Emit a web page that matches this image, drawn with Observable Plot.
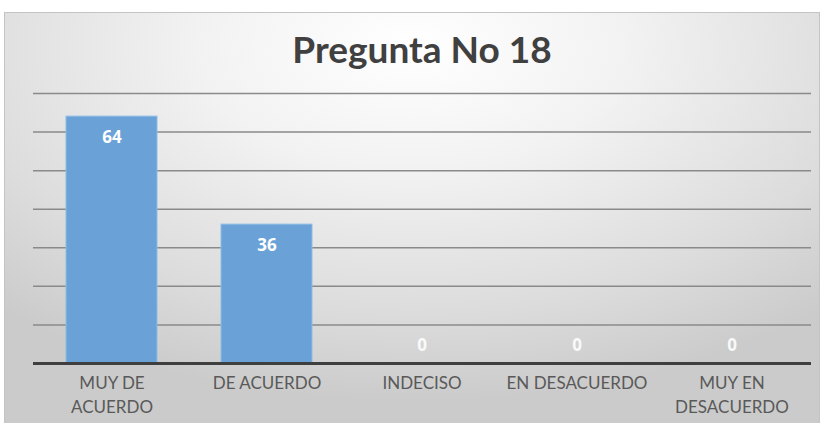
<!DOCTYPE html>
<html>
<head>
<meta charset="utf-8">
<script src="https://cdn.jsdelivr.net/npm/d3@7"></script>
<script src="https://cdn.jsdelivr.net/npm/@observablehq/plot@0.6"></script>
<style>
  html, body { margin: 0; padding: 0; background: #fff; }
  #wrap { position: relative; width: 824px; height: 423px; overflow: hidden; }
  #bg { position: absolute; left: 4px; top: 12px; width: 816px; height: 420px;
        border: 1px solid #c4c4c4; box-sizing: border-box;
        background: radial-gradient(ellipse 75% 85% at 50% 8%, #ffffff 0%, #f2f2f2 35%, #dcdcdc 75%, #cbcbcb 100%); }
  #title { position: absolute; left: 0; width: 844px; top: 26px; text-align: center;
           font-family: Lato, "Open Sans", sans-serif; font-weight: 700; font-size: 37px; color: #404040; }
  #chart { position: absolute; left: 0; top: 0; }
</style>
</head>
<body>
<div id="wrap">
  <div id="bg"></div>
  <div id="title">Pregunta No 18</div>
  <div id="chart"></div>
</div>
<script>
const categories = ["MUY DE ACUERDO", "DE ACUERDO", "INDECISO", "EN DESACUERDO", "MUY EN DESACUERDO"];
const tickLabels = ["MUY DE\nACUERDO", "DE ACUERDO", "INDECISO", "EN DESACUERDO", "MUY EN\nDESACUERDO"];
const values = [64, 36, 0, 0, 0];
const gridTicks = [10, 20, 30, 40, 50, 60, 70];

const data = categories.map((c, i) => ({ category: c, value: values[i] }));
const labelOf = new Map(categories.map((c, i) => [c, tickLabels[i]]));

const chart = Plot.plot({
  width: 824,
  height: 423,
  marginTop: 93,
  marginBottom: 60,
  marginLeft: 33,
  marginRight: 13,
  style: { background: "transparent", fontFamily: "Lato, 'Open Sans', sans-serif" },
  x: { domain: categories, paddingInner: 0.41, paddingOuter: 0.205, label: null },
  y: { domain: [0, 70], label: null, axis: null },
  marks: [
    Plot.ruleY(gridTicks, { stroke: "#8a8a8a", strokeWidth: 1.5 }),
    Plot.barY(data, { x: "category", y: "value", fill: "#6aa2d7", stroke: "#8dbbe6", strokeWidth: 1 }),
    Plot.ruleY([0], { stroke: "#3f3f3f", strokeWidth: 3 }),
    Plot.text(data.filter(d => d.value > 0), { x: "category", y: "value", text: d => String(d.value),
      dy: 21, fill: "#ffffff", fontSize: 17, fontWeight: "bold", fontFamily: "'Open Sans', sans-serif" }),
    Plot.text(data.filter(d => d.value === 0), { x: "category", y: "value", text: d => String(d.value),
      dy: -18, fill: "#ffffff", fillOpacity: 0.9, fontSize: 17, fontWeight: "bold", fontFamily: "'Open Sans', sans-serif" }),
    Plot.axisX({ tickSize: 0, tickPadding: 9, tickFormat: d => labelOf.get(d), fontSize: 17,
      fill: "#595959", lineHeight: 1.4, textAnchor: "middle" }),
  ]
});
document.getElementById("chart").appendChild(chart);
</script>
</body>
</html>
